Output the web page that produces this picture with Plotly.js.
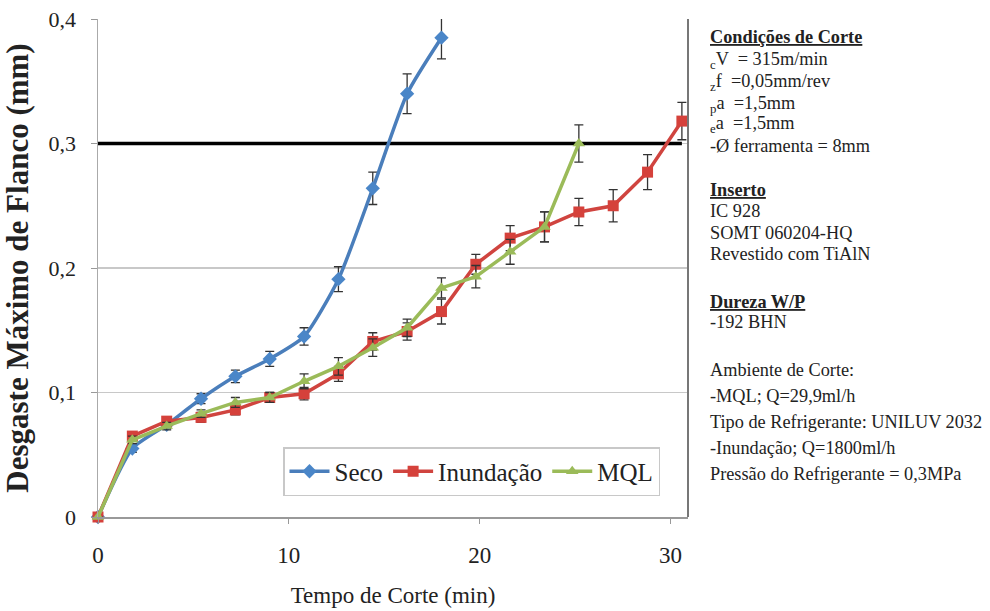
<!DOCTYPE html>
<html>
<head>
<meta charset="utf-8">
<script src="https://cdn.plot.ly/plotly-3.0.1.min.js"></script>
<style>html,body{margin:0;padding:0;background:#fff;}#chart{width:990px;height:611px;}</style>
</head>
<body>
<div id="chart"></div>
<script>
// ---- data ----
const tempoSeco = [0, 1.8, 3.6, 5.4, 7.2, 9.0, 10.8, 12.6, 14.4, 16.2, 18.0];
const seco      = [0, 0.055, 0.074, 0.095, 0.113, 0.127, 0.145, 0.191, 0.264, 0.340, 0.385];
const secoErr   = [0, 0.003, 0.003, 0.004, 0.005, 0.006, 0.007, 0.010, 0.013, 0.016, 0.017];

const tempoInund = [0, 1.8, 3.6, 5.4, 7.2, 9.0, 10.8, 12.6, 14.4, 16.2, 18.0, 19.8, 21.6, 23.4, 25.2, 27.0, 28.8, 30.6];
const inundacao  = [0, 0.065, 0.077, 0.080, 0.086, 0.096, 0.099, 0.115, 0.141, 0.149, 0.165, 0.203, 0.224, 0.233, 0.245, 0.250, 0.277, 0.318];
const inundErr   = [0, 0.003, 0.003, 0.004, 0.004, 0.004, 0.005, 0.006, 0.007, 0.007, 0.010, 0.008, 0.010, 0.012, 0.011, 0.013, 0.014, 0.015];

const tempoMQL = [0, 1.8, 3.6, 5.4, 7.2, 9.0, 10.8, 12.6, 14.4, 16.2, 18.0, 19.8, 21.6, 23.4, 25.2];
const mql      = [0, 0.062, 0.073, 0.083, 0.092, 0.096, 0.109, 0.121, 0.136, 0.152, 0.184, 0.193, 0.213, 0.233, 0.300];
const mqlErr   = [0, 0.003, 0.003, 0.003, 0.004, 0.004, 0.006, 0.007, 0.007, 0.007, 0.008, 0.009, 0.010, 0.012, 0.015];

const limiteX = [0, 30.6];
const limiteY = [0.3, 0.3];

const seriesNames = ["Seco", "Inundação", "MQL"];
const xTicks = [0, 10, 20, 30];
const yTicks = [0, 0.1, 0.2, 0.3, 0.4];

const notes = [
  ["<u><b>Condições de Corte</b></u>", 37],
  ["<sub>c</sub>V  = 315m/min", 60],
  ["<sub>z</sub>f  =0,05mm/rev", 82],
  ["<sub>p</sub>a  =1,5mm", 104],
  ["<sub>e</sub>a  =1,5mm", 125],
  ["-Ø ferramenta = 8mm", 146],
  ["<u><b>Inserto</b></u>", 190],
  ["IC 928", 211],
  ["SOMT 060204-HQ", 233],
  ["Revestido com TiAlN", 254],
  ["<u><b>Dureza W/P</b></u>", 302],
  ["-192 BHN", 322],
  ["Ambiente de Corte:", 370],
  ["-MQL; Q=29,9ml/h", 396],
  ["Tipo de Refrigerante: UNILUV 2032", 422],
  ["-Inundação; Q=1800ml/h", 448],
  ["Pressão do Refrigerante = 0,3MPa", 474]
];

// ---- chart ----
const serif = "Liberation Serif, Times New Roman, serif";
const errStyle = {type: "data", visible: true, color: "#333", thickness: 1.3, width: 4.5};

const traces = [
  {x: limiteX, y: limiteY, mode: "lines", line: {color: "#000", width: 3.5},
   showlegend: false, hoverinfo: "skip", cliponaxis: false},
  {x: tempoSeco, y: seco, name: seriesNames[0], mode: "lines+markers",
   line: {color: "#4a7ebb", width: 3.5, shape: "spline", smoothing: 0.6},
   marker: {symbol: "diamond", size: 11, color: "#4a86c8"},
   error_y: Object.assign({array: secoErr}, errStyle), cliponaxis: false},
  {x: tempoInund, y: inundacao, name: seriesNames[1], mode: "lines+markers",
   line: {color: "#d0443f", width: 3.5},
   marker: {symbol: "square", size: 11, color: "#d5413b"},
   error_y: Object.assign({array: inundErr}, errStyle), cliponaxis: false},
  {x: tempoMQL, y: mql, name: seriesNames[2], mode: "lines+markers",
   line: {color: "#9bbb59", width: 3.5},
   marker: {symbol: "triangle-up", size: 11, color: "#9bbb59"},
   error_y: Object.assign({array: mqlErr}, errStyle), cliponaxis: false}
];

const W = 590, H = 498;
const annotations = notes.map(function(n){
  return {text: n[0], xref: "paper", yref: "paper",
          x: (708 - 98) / W, y: (517 - n[1]) / H,
          xanchor: "left", yanchor: "middle", showarrow: false, align: "left",
          font: {family: serif, size: 18.3, color: "#222"}};
});

const layout = {
  width: 990, height: 611,
  margin: {l: 98, r: 302, t: 19, b: 94},
  paper_bgcolor: "#fff", plot_bgcolor: "#fff",
  separators: ",.",
  font: {family: serif, color: "#222"},
  showlegend: true,
  legend: {orientation: "h", x: (283 - 98) / W, y: (517 - 496) / H,
           xanchor: "left", yanchor: "bottom",
           bordercolor: "#c8c8c8", borderwidth: 1.5, bgcolor: "#fff",
           font: {family: serif, size: 25, color: "#222"},
           itemwidth: 40},
  xaxis: {range: [0, 30.92], tickvals: xTicks, ticks: "outside", ticklen: 5,
          tickcolor: "#999", showline: true, linecolor: "#999", linewidth: 1.5,
          showgrid: false, zeroline: false, ticklabelstandoff: 12,
          tickfont: {family: serif, size: 23, color: "#222"},
          title: {text: "Tempo de Corte (min)", standoff: 20,
                  font: {family: serif, size: 23, color: "#222"}}},
  yaxis: {range: [0, 0.4], tickvals: yTicks, ticks: "outside", ticklen: 6,
          tickcolor: "#999", showline: true, linecolor: "#aaa", linewidth: 1.5,
          showgrid: true, gridcolor: "#c8c8c8", gridwidth: 1.3, zeroline: false,
          ticklabelstandoff: 10,
          tickfont: {family: serif, size: 22, color: "#222"},
          title: {text: "<b>Desgaste Máximo de Flanco (mm)</b>", standoff: 14,
                  font: {family: serif, size: 31, color: "#222"}}},
  shapes: [{type: "line", xref: "paper", yref: "paper", x0: 1, x1: 1, y0: 0, y1: 1,
            line: {color: "#777", width: 2}}],
  annotations: annotations
};

Plotly.newPlot("chart", traces, layout, {displayModeBar: false, staticPlot: true});
</script>
</body>
</html>
